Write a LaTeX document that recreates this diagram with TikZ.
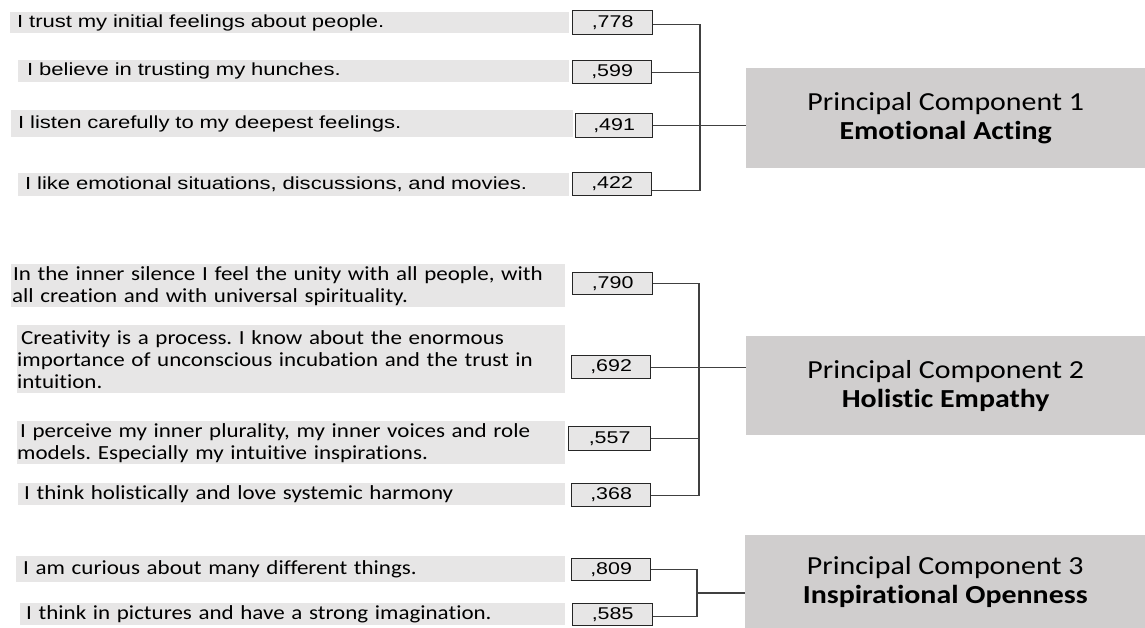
\documentclass[tikz,border=0pt]{standalone}
\usepackage{fontspec}
\setmainfont{Carlito}
\newfontfamily\calfont[FakeStretch=1.15,Ligatures=NoCommon]{Carlito}
\newfontfamily\arfont[FakeStretch=1.26]{Liberation Sans}
\definecolor{tgray}{HTML}{E7E6E6}
\definecolor{pgray}{HTML}{D0CECE}
\definecolor{lgray}{HTML}{404040}
\frenchspacing
\begin{document}
\begin{tikzpicture}[x=1pt,y=-1pt,
 item/.style={fill=tgray, inner xsep=0pt, inner ysep=0pt, anchor=north west, align=left},
 val/.style={fill=tgray, draw=black!85, line width=1.2pt, inner sep=0pt, anchor=north west, font=\arfont\fontsize{17}{18}\selectfont},
 pc/.style={fill=pgray, inner sep=0pt, anchor=north west, align=center, font=\calfont\fontsize{26}{29}\selectfont},
 link/.style={draw=lgray, line width=1.1pt},
 f1/.style={font=\arfont\fontsize{17.5}{22}\selectfont},
 f2/.style={font=\calfont\fontsize{20}{22}\selectfont},
]
\fill[white] (0,0) rectangle (1145,628);
\useasboundingbox (0,0) rectangle (1145,628);

% group 1
\node[item,f1,text width=559,minimum height=21] (t1) at (10,12) {\hspace*{7pt}I trust my initial feelings about people.};
\node[item,f1,text width=551,minimum height=22] (t2) at (18,60) {\hspace*{9pt}I believe in trusting my hunches.};
\node[item,f1,text width=562,minimum height=27] (t3) at (11,110) {\hspace*{7pt}I listen carefully to my deepest feelings.};
\node[item,f1,text width=551,minimum height=23] (t4) at (18,173) {\hspace*{7pt}I like emotional situations, discussions, and movies.};
\node[val,minimum width=80,minimum height=24] (v1) at (572,10) {,778};
\node[val,minimum width=79,minimum height=23] (v2) at (572,60) {,599};
\node[val,minimum width=77,minimum height=24] (v3) at (575,113) {,491};
\node[val,minimum width=79,minimum height=23] (v4) at (572,172) {,422};
\node[pc,minimum width=399,minimum height=100] (pc1) at (746,68) {Principal Component 1\\\textbf{Emotional Acting}};
\coordinate (b1) at (700,0);
\draw[link] ([yshift=-1.5pt]v1.east) -- ([yshift=-1.5pt]v1.east -| b1) -- ([yshift=-6pt]v4.east -| b1) -- ([yshift=-6pt]v4.east);
\draw[link] (v2.east) -- (v2.east -| b1);
\draw[link] (v3.east) -- (pc1.west |- v3.east);

% group 2
\node[item,f2,text width=554,minimum height=43] (t5) at (11,264) {\hspace*{2pt}In the inner silence I feel the unity with all people, with\\\hspace*{1pt}all creation and with universal spirituality.};
\node[item,f2,text width=548,minimum height=68] (t6) at (17,325) {\hspace*{4pt}Creativity is a process. I know about the enormous\\importance of unconscious incubation and the trust in\\intuition.};
\node[item,f2,text width=548,minimum height=43] (t7) at (17,421) {\hspace*{3pt}I perceive my inner plurality, my inner voices and role\\models. Especially my intuitive inspirations.};
\node[item,f2,text width=547,minimum height=22] (t8) at (18,483) {\hspace*{6pt}I think holistically and love systemic harmony};
\node[val,minimum width=80,minimum height=22] (v5) at (572,272) {,790};
\node[val,minimum width=79,minimum height=23] (v6) at (571,355) {,692};
\node[val,minimum width=82,minimum height=24] (v7) at (568,426) {,557};
\node[val,minimum width=79,minimum height=23] (v8) at (571,483) {,368};
\node[pc,minimum width=399,minimum height=99] (pc2) at (746,336) {Principal Component 2\\\textbf{Holistic Empathy}};
\coordinate (b2) at (699,0);
\draw[link] (v5.east) -- (v5.east -| b2) -- (v8.east -| b2) -- (v8.east);
\draw[link] (v7.east) -- (v7.east -| b2);
\draw[link] (v6.east) -- (pc2.west |- v6.east);

% group 3
\node[item,f2,text width=549,minimum height=26] (t9) at (16,556) {\hspace*{7pt}I am curious about many different things.};
\node[item,f2,text width=545,minimum height=22] (t10) at (20,603) {\hspace*{6pt}I think in pictures and have a strong imagination.};
\node[val,minimum width=79,minimum height=22] (v9) at (571,558) {,809};
\node[val,minimum width=80,minimum height=22] (v10) at (572,603) {,585};
\node[pc,minimum width=400,minimum height=93] (pc3) at (745,535) {Principal Component 3\\\textbf{Inspirational Openness}};
\coordinate (b3) at (697,0);
\coordinate (m3) at (697,593);
\draw[link] (v9.east) -- (v9.east -| b3) -- ([yshift=-2pt]v10.east -| b3) -- ([yshift=-2pt]v10.east);
\draw[link] (m3) -- (pc3.west |- m3);
\end{tikzpicture}
\end{document}
